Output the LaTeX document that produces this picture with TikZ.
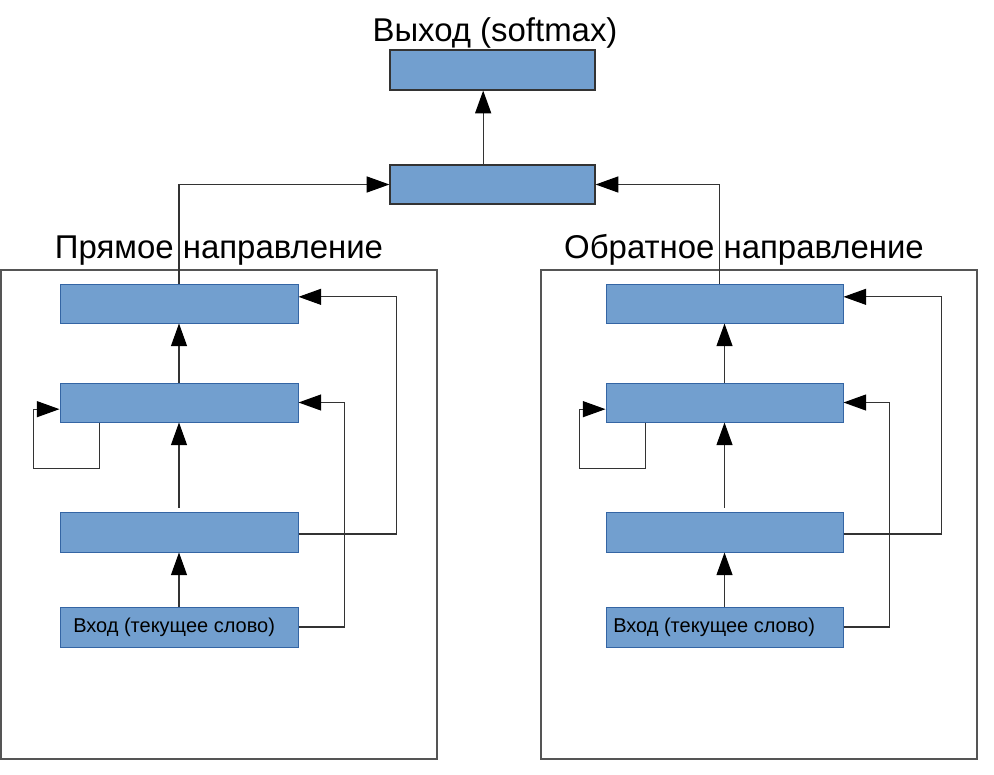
\documentclass[tikz,border=0pt]{standalone}
\usepackage{fontspec}
\setmainfont{Liberation Sans}
\usetikzlibrary{arrows.meta,fit}
\definecolor{boxfill}{HTML}{729FCF}
\definecolor{boxline}{HTML}{3465A4}
\definecolor{wirecol}{HTML}{333333}
\definecolor{panelcol}{HTML}{555555}
\begin{document}
\begin{tikzpicture}[x=0.75pt,y=-0.75pt,
  box/.style={draw=boxline, fill=boxfill, line width=0.75pt, inner sep=0pt},
  topbox/.style={draw=wirecol, fill=boxfill, line width=0.9pt, inner sep=0pt},
  panel/.style={draw=panelcol, line width=0.9pt, inner sep=0pt},
  wire/.style={draw=wirecol, line width=0.9pt},
  arr/.style={wire, -{Triangle[length=17pt,width=12pt,fill=black,color=black]}},
  title/.style={font=\fontsize{24.7}{28}\selectfont, anchor=base, inner sep=0pt},
  lbl/.style={font=\fontsize{15}{18}\selectfont, anchor=base west, inner sep=0pt}]
\useasboundingbox (0,0) rectangle (994,774);
\fill[white] (0,0) rectangle (994,774);

% panels
\node[panel, fit={(1,270)(437,759)}] (lp) {};
\node[panel, fit={(541,270)(977,759)}] (rp) {};

% titles
\node[title] (tout) at (495,42) {Выход (softmax)};
\node[title] (tl) at (219,258) {Прямое направление};
\node[title] (tr) at (744,258) {Обратное направление};

% top boxes
\node[topbox, fit={(390,50)(595,90)}] (out) {};
\node[topbox, fit={(390,165)(595,204)}] (mid) {};

% left boxes
\node[box, fit={(60,284)(298,323)}] (l4) {};
\node[box, fit={(60,383)(298,422)}] (l3) {};
\node[box, fit={(60,512)(298,552)}] (l2) {};
\node[box, fit={(60,607)(298,647)}] (l1) {};
\node[lbl] (l1t) at (73,632) {Вход (текущее слово)};

% right boxes
\node[box, fit={(606,284)(843,323)}] (r4) {};
\node[box, fit={(606,383)(843,422)}] (r3) {};
\node[box, fit={(606,512)(843,552)}] (r2) {};
\node[box, fit={(606,607)(843,647)}] (r1) {};
\node[lbl] (r1t) at (613,632) {Вход (текущее слово)};

% top connectors
\draw[arr] ([xshift=-7pt]mid.north) -- ([xshift=-7pt]out.south);
\draw[arr] (l4.north) |- (mid.west);
\draw[arr] ([xshift=-3.75pt]r4.north) |- (mid.east);

% left panel connectors
\draw[arr] (l1.north) -- (l2.south);
\draw[arr] ([yshift=3pt]l2.north) -- (l3.south);
\draw[arr] (l3.north) -- (l4.south);
\draw[arr] ([xshift=30pt]l3.south west) -- ++(0,46) -- ++(-66,0) |- ([yshift=-5pt]l3.west);
\draw[arr] (l1.east) -- ++(46,0) |- (l3.east);
\draw[arr] ([yshift=-1.5pt]l2.east) -- ++(98,0) |- ([yshift=5pt]l4.east);

% right panel connectors
\draw[arr] (r1.north) -- (r2.south);
\draw[arr] ([yshift=3pt]r2.north) -- (r3.south);
\draw[arr] (r3.north) -- (r4.south);
\draw[arr] ([xshift=30pt]r3.south west) -- ++(0,46) -- ++(-66,0) |- ([yshift=-5pt]r3.west);
\draw[arr] (r1.east) -- ++(46,0) |- (r3.east);
\draw[arr] ([yshift=-1.5pt]r2.east) -- ++(98,0) |- ([yshift=5pt]r4.east);
\end{tikzpicture}
\end{document}
